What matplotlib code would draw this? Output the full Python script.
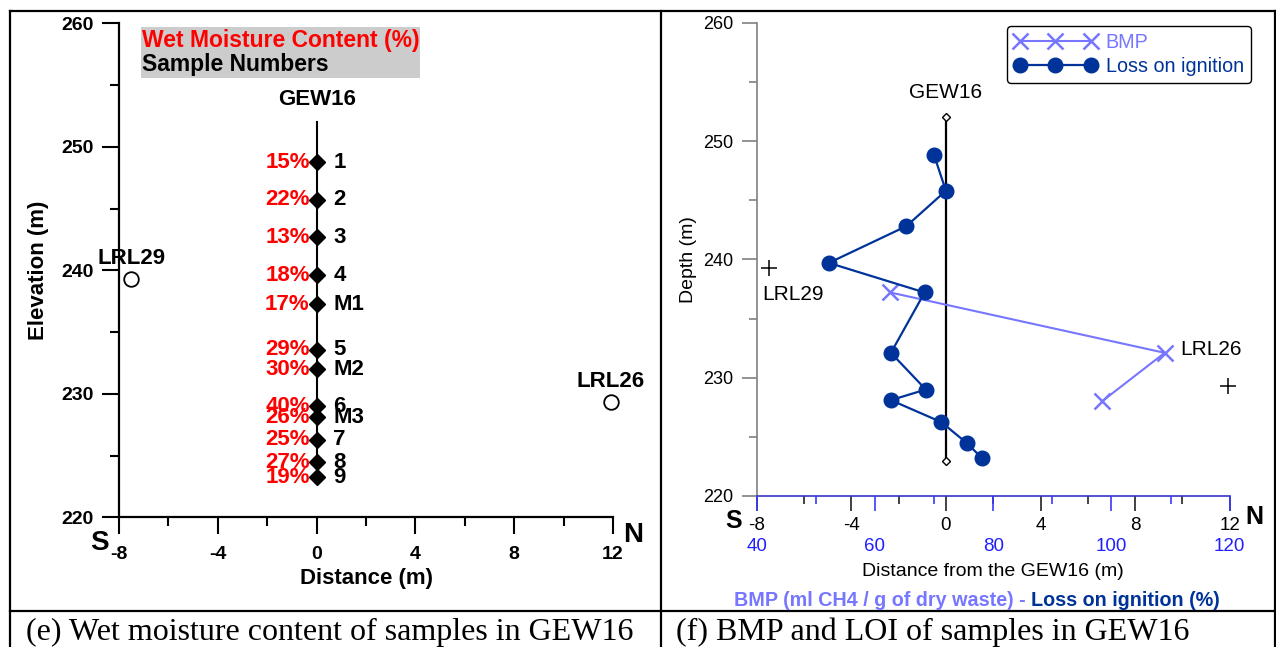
import matplotlib
matplotlib.use('Agg')
import matplotlib.pyplot as plt
from matplotlib.lines import Line2D
from matplotlib.patches import Rectangle
from matplotlib.ticker import MultipleLocator

# ---- data ----
samples = ['1', '2', '3', '4', 'M1', '5', 'M2', '6', 'M3', '7', '8', '9']
sample_elev = [248.75, 245.7, 242.67, 239.6, 237.25, 233.55, 232.0, 229.0, 228.1, 226.26, 224.45, 223.24]
moisture = [15, 22, 13, 18, 17, 29, 30, 40, 26, 25, 27, 19]

loi_elev = [248.8, 245.8, 242.8, 239.7, 237.2, 232.1, 229.0, 228.1, 226.25, 224.45, 223.2]
loi = [70.0, 72.0, 65.3, 52.2, 68.4, 62.7, 68.6, 62.7, 71.2, 75.6, 78.1]

bmp_elev = [237.2, 232.1, 228.0]
bmp = [62.6, 109.0, 98.4]

wells = ['LRL29', 'LRL26']
well_dist = [-7.5, 11.92]
well_elev = [239.3, 229.3]

gew_dist = [0, 0]
gew_elev = [252.0, 223.0]

W, H = 1276, 647
BMP_C = '#7676ff'
LOI_C = '#003399'
plt.rcParams['font.family'] = ['Liberation Sans', 'DejaVu Sans']
plt.rcParams['axes.unicode_minus'] = False


def box(l, t, r, b):
    return [l / W, 1 - b / H, (r - l) / W, (b - t) / H]


def fx(px):
    return px / W


def fy(py):
    return 1 - py / H


fig = plt.figure(figsize=(W / 100, H / 100), dpi=100)

# ---- frame of the two-cell table ----
for (x0, y0, x1, y1) in [(10, 11, 1276, 11), (10, 11, 10, 647), (661, 11, 661, 647),
                         (10, 611, 1276, 611), (1275, 11, 1275, 647)]:
    fig.add_artist(Line2D([fx(x0), fx(x1)], [fy(y0), fy(y1)], color='black', lw=1.6))

fig.text(fx(26), fy(632), '(e) Wet moisture content of samples in GEW16',
         family='Liberation Serif', fontsize=23, va='center', ha='left')
fig.text(fx(676), fy(632), '(f) BMP and LOI of samples in GEW16',
         family='Liberation Serif', fontsize=23, va='center', ha='left')

# ================= left panel =================
ax1 = fig.add_axes(box(119, 23.3, 613, 517.3))
ax1.set_xlim(-8, 12)
ax1.set_ylim(220, 260)
for s in ['top', 'right']:
    ax1.spines[s].set_visible(False)
for s in ['left', 'bottom']:
    ax1.spines[s].set_linewidth(1.6)
ax1.xaxis.set_major_locator(MultipleLocator(4))
ax1.xaxis.set_minor_locator(MultipleLocator(2))
ax1.yaxis.set_major_locator(MultipleLocator(10))
ax1.yaxis.set_minor_locator(MultipleLocator(5))
ax1.tick_params(axis='both', which='major', length=12, width=1.5, labelsize=14)
ax1.tick_params(axis='both', which='minor', length=6.5, width=1.5)
ax1.tick_params(axis='x', which='major', pad=9)
ax1.tick_params(axis='y', which='major', pad=6)
for lab in ax1.get_xticklabels() + ax1.get_yticklabels():
    lab.set_fontweight('bold')
ax1.set_xlabel('Distance (m)', fontsize=16, fontweight='bold', labelpad=3)
ax1.set_ylabel('Elevation (m)', fontsize=16, fontweight='bold', labelpad=9)

ax1.plot(gew_dist, gew_elev, color='black', lw=1.5, zorder=2)
ax1.plot([0] * len(sample_elev), sample_elev, linestyle='none', marker='D',
         markersize=8.5, color='black', zorder=3)
for name, e, m in zip(samples, sample_elev, moisture):
    ax1.annotate(f'{m}%', (0, e), xytext=(-5, 0), textcoords='offset points',
                 ha='right', va='center', color='red', fontsize=16, fontweight='bold')
    ax1.annotate(name, (0, e), xytext=(12, 0), textcoords='offset points',
                 ha='left', va='center', color='black', fontsize=16, fontweight='bold')
ax1.annotate('GEW16', (0, gew_elev[0]), xytext=(0, 16), textcoords='offset points',
             ha='center', va='center', fontsize=16, fontweight='bold')
ax1.plot(well_dist, well_elev, linestyle='none', marker='o', markersize=10.5,
         mfc='white', mec='black', mew=1.3, clip_on=False)
for name, d, e in zip(wells, well_dist, well_elev):
    ax1.annotate(name, (d, e), xytext=(0, 15), textcoords='offset points',
                 ha='center', va='center', fontsize=16, fontweight='bold')

fig.add_artist(Rectangle((fx(141), fy(77.7)), fx(420) - fx(141), fy(27.3) - fy(77.7),
                         transform=fig.transFigure, facecolor='#cccccc', edgecolor='none'))
fig.text(fx(142), fy(41), 'Wet Moisture Content (%)', color='red', fontsize=16.5,
         fontweight='bold', va='center', ha='left')
fig.text(fx(142), fy(65), 'Sample Numbers', color='black', fontsize=16.5,
         fontweight='bold', va='center', ha='left')
fig.text(fx(99), fy(543), 'S', fontsize=20, fontweight='bold', ha='center', va='center')
fig.text(fx(633), fy(535), 'N', fontsize=20, fontweight='bold', ha='center', va='center')

# ================= right panel =================
ax2 = fig.add_axes(box(756.7, 22.7, 1229.7, 496))
ax2.set_xlim(-8, 12)
ax2.set_ylim(220, 260)
for s in ['top', 'right']:
    ax2.spines[s].set_visible(False)
ax2.spines['left'].set_color('#808080')
ax2.spines['left'].set_linewidth(1.2)
ax2.spines['bottom'].set_color('#3535c8')
ax2.spines['bottom'].set_linewidth(1.2)
ax2.xaxis.set_major_locator(MultipleLocator(4))
ax2.xaxis.set_minor_locator(MultipleLocator(2))
ax2.yaxis.set_major_locator(MultipleLocator(10))
ax2.yaxis.set_minor_locator(MultipleLocator(5))
ax2.tick_params(axis='y', which='major', length=11, width=1.2, color='#808080', labelsize=13, pad=6)
ax2.tick_params(axis='y', which='minor', length=6, width=1.2, color='#808080')
ax2.tick_params(axis='x', which='major', length=11, width=1.2, color='#222222', labelsize=13.5, pad=4)
ax2.tick_params(axis='x', which='minor', length=5.5, width=1.2, color='#222222')
ax2.set_ylabel('Depth (m)', fontsize=14, labelpad=4)
ax2.set_xlabel('Distance from the GEW16 (m)', fontsize=14, labelpad=21)

ax3 = ax2.twiny()
ax3.set_xlim(40, 120)
for s in ['top', 'right', 'left', 'bottom']:
    ax3.spines[s].set_visible(False)
ax3.xaxis.set_ticks_position('bottom')
ax3.xaxis.set_major_locator(MultipleLocator(20))
ax3.xaxis.set_minor_locator(MultipleLocator(10))
ax3.tick_params(axis='x', which='major', length=11, width=1.2, color='#3a3aff',
                labelcolor='#1f1fff', labelsize=13.5, pad=19)
ax3.tick_params(axis='x', which='minor', length=5.5, width=1.2, color='#3a3aff')

ax2.plot(gew_dist, gew_elev, color='black', lw=1.6, marker='D', markersize=4,
         mfc='white', mec='black', mew=1, zorder=2)
ax2.annotate('GEW16', (0, gew_elev[0]), xytext=(0, 18), textcoords='offset points',
             ha='center', va='center', fontsize=15)
ax2.plot(well_dist, well_elev, linestyle='none', marker='+', markersize=11,
         color='black', mew=1.1, clip_on=False)
ax2.annotate(wells[0], (well_dist[0], well_elev[0]), xytext=(-4.5, -19),
             textcoords='offset points', ha='left', va='center', fontsize=15)
ax2.annotate(wells[1], (well_dist[1], well_elev[1]), xytext=(-34, 26.5),
             textcoords='offset points', ha='left', va='center', fontsize=15)

ax3.plot(bmp, bmp_elev, color=BMP_C, lw=1.5, marker='x', markersize=11, mew=1.8,
         label='BMP', zorder=4)
ax3.plot(loi, loi_elev, color=LOI_C, lw=1.6, marker='o', markersize=10.5,
         label='Loss on ignition', zorder=5)
leg = ax3.legend(loc='upper left', bbox_to_anchor=(fx(1007), fy(26)),
                 bbox_transform=fig.transFigure, numpoints=3, handlelength=4.2,
                 handletextpad=0.45, fontsize=14.2, labelcolor='linecolor',
                 fancybox=True, edgecolor='black', framealpha=1,
                 borderpad=0.35, labelspacing=0.25, borderaxespad=0)
leg.get_frame().set_linewidth(1.0)

fig.text(fx(734), fy(521), 'S', fontsize=18, fontweight='bold', ha='center', va='center')
fig.text(fx(1254), fy(517), 'N', fontsize=18, fontweight='bold', ha='center', va='center')

fig.text(fx(1031), fy(600), 'BMP (ml CH4 / g of dry waste) - ', color=BMP_C,
         fontsize=14.2, fontweight='bold', ha='right', va='center')
fig.text(fx(1031), fy(600), 'Loss on ignition (%)', color=LOI_C,
         fontsize=14.2, fontweight='bold', ha='left', va='center')

fig.savefig('out.png', dpi=100)
